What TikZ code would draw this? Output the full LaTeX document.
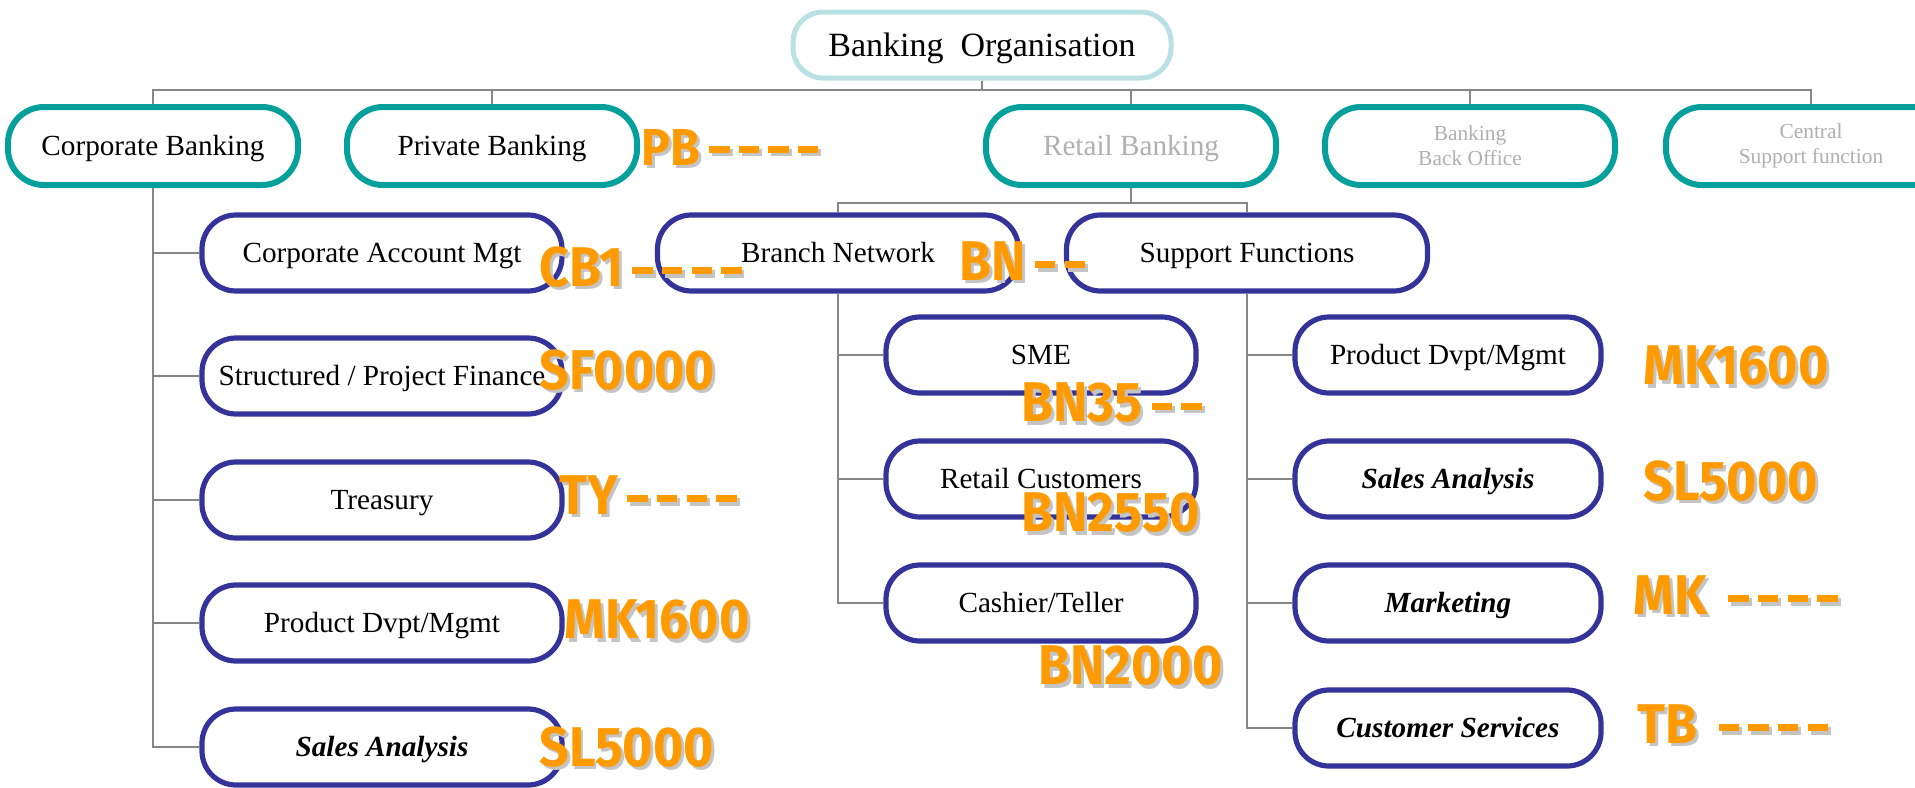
\documentclass[tikz,border=0pt]{standalone}
\usepackage{fontspec}
\setmainfont{Liberation Serif}
\newfontfamily\codefont[Ligatures=TeXOff]{Fira Sans}

\definecolor{rootblue}{HTML}{B9E1E4}
\definecolor{unitteal}{HTML}{05A09C}
\definecolor{deptblue}{HTML}{333399}
\definecolor{linkgrey}{HTML}{868686}
\definecolor{codeorange}{HTML}{FF9A00}
\definecolor{codeshadow}{HTML}{C4C4C4}
\definecolor{fadedtext}{HTML}{B0B0B0}

% thick dash of the codes, and the code text with its grey shadow
\newcommand{\dsh}{\kern5pt\rule[6pt]{11pt}{3.6pt}}
\newcommand{\shadowtxt}[1]{\scalebox{0.925}[1]{\rlap{\kern1.6pt\raisebox{-1.6pt}[0pt][0pt]{\textcolor{codeshadow}{#1}}}#1}}

\tikzset{
  rootbox/.style={draw=rootblue, line width=2.5pt, rounded corners=15pt, minimum width=189pt, minimum height=33pt, font=\fontsize{17}{20}\selectfont, text height=11.3pt, text depth=0pt, fill=white},
  unitbox/.style={draw=unitteal, line width=3pt, rounded corners=18pt, minimum width=145pt, minimum height=39pt, font=\fontsize{14.6}{17}\selectfont, text height=9.7pt, text depth=0pt, fill=white},
  deptbox/.style={draw=deptblue, line width=2.6pt, rounded corners=17pt, minimum width=#1, minimum height=38pt, font=\fontsize{14.6}{17}\selectfont, text height=9.7pt, text depth=0pt, fill=white},
  smallgrey/.style={text=fadedtext, align=center, text height={}, text depth={}, font=\fontsize{10.7}{12.5}\selectfont},
  link/.style={draw=linkgrey, line width=1pt},
  code/.style={anchor=west, inner sep=0pt, text=codeorange, font=\codefont\bfseries\fontsize{28}{30}\selectfont},
}

\begin{document}
\begin{tikzpicture}[x=0.5pt, y=-0.5pt]
		\useasboundingbox (0,0) rectangle (1915,787);
		\clip (0,0) rectangle (1915,787);
		% top of the organisation
		\node[rootbox] (root) at (982,45) {Banking\ \ Organisation};
		% divisions
		\node[unitbox] (corp) at (153,146) {Corporate Banking};
		\node[unitbox] (priv) at (492,146) {Private Banking};
		\node[unitbox, text=fadedtext] (retail) at (1131,146) {Retail Banking};
		\node[unitbox, smallgrey] (backoff) at (1470,146) {Banking\\Back Office};
		\node[unitbox, smallgrey] (central) at (1811,146) {Central\\Support function};
		% corporate banking departments
		\node[deptbox=180pt] (cam) at (382,253) {Corporate Account Mgt};
		\node[deptbox=180pt] (spf) at (382,376) {Structured / Project Finance};
		\node[deptbox=180pt] (trs) at (382,500) {Treasury};
		\node[deptbox=180pt] (cpd) at (382,623) {Product Dvpt/Mgmt};
		\node[deptbox=180pt] (csa) at (382,747) {\textbf{\textit{Sales Analysis}}};
		% retail banking departments
		\node[deptbox=180.5pt] (branch) at (838,253) {Branch Network};
		\node[deptbox=180.5pt] (support) at (1247,253) {Support Functions};
		\node[deptbox=155pt] (sme) at (1041,355) {SME};
		\node[deptbox=155pt] (rcust) at (1041,479) {Retail Customers};
		\node[deptbox=155pt] (cash) at (1041,603) {Cashier/Teller};
		\node[deptbox=153pt] (spd) at (1448,355) {Product Dvpt/Mgmt};
		\node[deptbox=153pt] (ssa) at (1448,479) {\textbf{\textit{Sales Analysis}}};
		\node[deptbox=153pt] (mkt) at (1448,603) {\textbf{\textit{Marketing}}};
		\node[deptbox=153pt] (csv) at (1448,728) {\textbf{\textit{Customer Services}}};
		% connections
		\foreach \n in {corp,priv,retail,backoff,central}
			\draw[link] (root.south) -- ++(0,9.5) -| (\n.north);
		\foreach \n in {cam,spf,trs,cpd,csa}
			\draw[link] (corp.south) |- (\n.west);
		\draw[link] (retail.south) -- ++(0,15) -| (branch.north);
		\draw[link] (retail.south) -- ++(0,15) -| (support.north);
		\foreach \n in {sme,rcust,cash}
			\draw[link] (branch.south) |- (\n.west);
		\foreach \n in {spd,ssa,mkt,csv}
			\draw[link] (support.south) |- (\n.west);
		% cost centre codes
		\node[code, font=\codefont\bfseries\fontsize{26}{28}\selectfont] (cPB) at (641,147) {\shadowtxt{PB\dsh\dsh\dsh\dsh}};
		\node[code] (cCB) at (539,267) {\shadowtxt{CB1\dsh\dsh\dsh\dsh}};
		\node[code] (cBN) at (959,261) {\shadowtxt{BN\dsh\dsh}};
		\node[code] (cSF) at (539,370) {\shadowtxt{SF0000}};
		\node[code] (cTY) at (559,495) {\shadowtxt{TY\dsh\dsh\dsh\dsh}};
		\node[code] (cMKa) at (564,620) {\shadowtxt{MK1600}};
		\node[code] (cSLa) at (539,747) {\shadowtxt{SL5000}};
		\node[code] (cSME) at (1021,403) {\shadowtxt{BN35\dsh\dsh}};
		\node[code] (cRC) at (1021,513) {\shadowtxt{BN2550}};
		\node[code] (cCT) at (1038,666) {\shadowtxt{BN2000}};
		\node[code] (cMKb) at (1643,366) {\shadowtxt{MK1600}};
		\node[code] (cSLb) at (1643,481) {\shadowtxt{SL5000}};
		\node[code] (cMK) at (1633,595) {\shadowtxt{MK\ \dsh\dsh\dsh\dsh}};
		\node[code] (cTB) at (1637,724) {\shadowtxt{TB\ \dsh\dsh\dsh\dsh}};
	\end{tikzpicture}
\end{document}
